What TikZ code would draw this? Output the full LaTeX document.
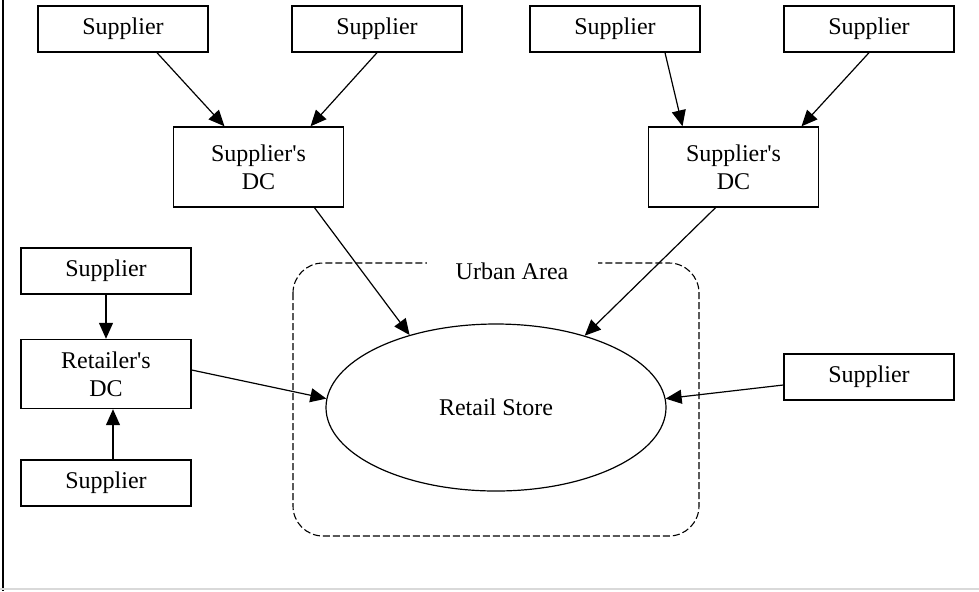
\documentclass[tikz,border=0pt]{standalone}
\usepackage{fontspec}
\setmainfont{Liberation Serif}
\usepackage{tikz}
\usetikzlibrary{calc,shapes.geometric,arrows.meta}

\begin{document}
\begin{tikzpicture}[x=0.5pt,y=-0.5pt]
	    \tikzstyle{every node}=[font=\fontsize{12}{14}\selectfont]
	    \tikzstyle{box}=[draw,line width=0.7pt,minimum width=85pt,minimum height=23pt,align=center,inner sep=0pt]
	    \tikzstyle{dcbox}=[box,minimum height=40pt]
	    \tikzstyle{flow}=[-{Triangle[length=8pt,width=7pt]},line width=0.6pt]
	    \useasboundingbox (0,0) rectangle (979,591);
	    \draw[line width=0.7pt] (3,0) -- (3,591);
	    \draw[line width=0.6pt,black!15] (0,589) -- (979,589);
	    % urban area
	    \draw[dash pattern=on 3.5pt off 1.5pt,line width=0.55pt,rounded corners=15pt] (293,263) rectangle (699,536);
	    \node[fill=white,minimum width=85.5pt,inner sep=1pt] (urban) at (512,271) {Urban Area};
	    \node[draw,ellipse,line width=0.6pt,minimum width=170pt,minimum height=83.5pt,inner sep=0pt] (store) at (496,407.5) {Retail Store};
	    % suppliers
	    \node[box] (s1) at (123,29) {Supplier};
	    \node[box] (s2) at (377,29) {Supplier};
	    \node[box] (s3) at (615,29) {Supplier};
	    \node[box] (s4) at (869,29) {Supplier};
	    \node[dcbox] (dc1) at (258.5,167) {Supplier\textquotesingle s\\DC};
	    \node[dcbox] (dc2) at (733.5,167) {Supplier\textquotesingle s\\DC};
	    \node[box] (sl) at (106,271) {Supplier};
	    \node[box,minimum height=34.5pt] (rdc) at (106,374) {Retailer\textquotesingle s\\DC};
	    \node[box] (sb) at (106,483) {Supplier};
	    \node[box] (sr) at (869,377) {Supplier};
	    % flows
	    \draw[flow] ([xshift=17pt]s1.south) -- ([xshift=-17pt]dc1.north);
	    \draw[flow] (s2.south) -- ([xshift=26pt]dc1.north);
	    \draw[flow] ([xshift=25pt]s3.south) -- ([xshift=-25.5pt]dc2.north);
	    \draw[flow] (s4.south) -- ([xshift=34pt]dc2.north);
	    \draw[flow] ([xshift=28pt]dc1.south) -- (store.140);
	    \draw[flow] ([xshift=-9pt]dc2.south) -- (store.39);
	    \draw[flow] (sl.south) -- (rdc.north);
	    \draw[flow] ([xshift=3.5pt]sb.north) -- ([xshift=3.5pt]rdc.south);
	    \draw[flow] ([yshift=2pt]rdc.east) -- (store.177);
	    \draw[flow] ([yshift=-4pt]sr.west) -- (store.3);
\end{tikzpicture}
\end{document}
